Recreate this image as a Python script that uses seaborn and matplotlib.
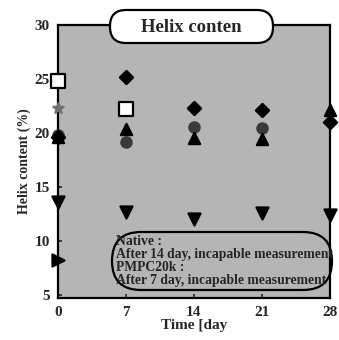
import matplotlib
matplotlib.use("Agg")
import matplotlib.pyplot as plt
from matplotlib.patches import FancyBboxPatch
import pandas as pd
import seaborn as sns

# values (Helix content %, by day)
days = [0, 7, 14, 21, 28]
diamond_vals = [19.6, 25.2, 22.3, 22.1, 21.0]
square_days = [0, 7]
square_vals = [24.8, 22.2]
up_tri_vals = [19.6, 20.4, 19.5, 19.4, 22.1]
circle_days = [0, 7, 14, 21]
circle_vals = [19.8, 19.2, 20.6, 20.5]
down_tri_vals = [13.6, 12.7, 12.0, 12.6, 12.4]
right_tri_days = [0]
right_tri_vals = [8.2]
star_days = [0]
star_vals = [22.3]

x_ticks = [0, 7, 14, 21, 28]
y_ticks = [5, 10, 15, 20, 25, 30]
title_text = "Helix conten"
note_lines = ["Native :", "After 14 day, incapable measurement",
              "PMPC20k :", "After 7 day, incapable measurement"]

sns.set_style("ticks")
plt.rcParams['font.family'] = ['Liberation Serif', 'DejaVu Serif']
plt.rcParams['font.weight'] = 'bold'

fig = plt.figure(figsize=(3.39, 3.40), dpi=100)
ax = fig.add_axes([0.171, 0.124, 0.802, 0.802])
ax.set_facecolor('#b5b5b5')

series = [
    (circle_days, circle_vals, 'o', '#3a3a3a', '#3a3a3a', 55),
    (star_days, star_vals, '*', '#707070', '#707070', 60),
    (days, up_tri_vals, '^', 'black', 'black', 65),
    (days, diamond_vals, 'D', 'black', 'black', 45),
    (square_days, square_vals, 's', 'white', 'black', 110),
    (days, down_tri_vals, 'v', 'black', 'black', 75),
    (right_tri_days, right_tri_vals, '>', 'black', 'black', 75),
]
for xs, ys, mk, fc, ec, s in series:
    df = pd.DataFrame({'day': xs, 'helix': ys})
    sns.scatterplot(data=df, x='day', y='helix', marker=mk, s=s,
                    color=fc, edgecolor=ec, linewidth=1.6, ax=ax,
                    clip_on=False, zorder=5)

ax.set_xlim(0, 28)
ax.set_ylim(4.72, 30)
ax.set_xticks(x_ticks)
ax.set_yticks(y_ticks)
ax.tick_params(direction='in', length=3, width=1.2, labelsize=11, pad=6)
for lab in ax.get_xticklabels() + ax.get_yticklabels():
    lab.set_fontweight('bold')
for sp in ax.spines.values():
    sp.set_linewidth(1.6)
    sp.set_color('black')

ax.set_xlabel("Time [day", fontsize=11, fontweight='bold', labelpad=0)
ax.set_ylabel("Helix content (%)", fontsize=10, fontweight='bold', labelpad=2)

# title in a rounded box sitting on the top spine
tbox = FancyBboxPatch((1.10, 2.97), 1.63, 0.33,
                      boxstyle="round,pad=0,rounding_size=0.16",
                      transform=fig.dpi_scale_trans, facecolor='white',
                      edgecolor='black', linewidth=1.6, zorder=10)
fig.patches.append(tbox)
fig.text(1.915, 3.13, title_text, transform=fig.dpi_scale_trans,
         ha='center', va='center', fontsize=13.5, fontweight='bold', zorder=11)

# note box in the bottom area
nbox = FancyBboxPatch((1.12, 0.50), 2.20, 0.58,
                      boxstyle="round,pad=0,rounding_size=0.29",
                      transform=fig.dpi_scale_trans, facecolor='none',
                      edgecolor='black', linewidth=1.6, zorder=10)
fig.patches.append(nbox)
for i, line in enumerate(note_lines):
    fig.text(1.16, 0.985 - i * 0.13, line, transform=fig.dpi_scale_trans,
             ha='left', va='center', fontsize=9.8, fontweight='bold', zorder=11)

fig.savefig("out.png", dpi=100)
